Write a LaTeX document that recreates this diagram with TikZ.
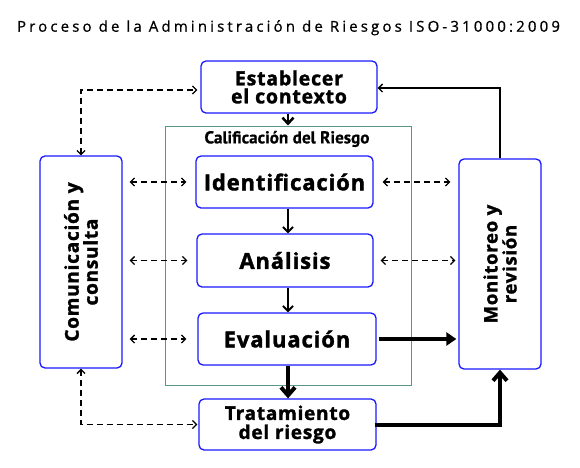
\documentclass[tikz,border=0pt]{standalone}
\usepackage{fontspec}
\usetikzlibrary{arrows.meta}
\newfontfamily\boxfont{Open Sans}[LetterSpace=4, FakeBold=1.6]
\newfontfamily\titlefont{Open Sans}[LetterSpace=21, FakeBold=0.8]
\newfontfamily\califont{PT Sans}[FakeBold=0.6]
\definecolor{boxblue}{RGB}{25,25,255}
\definecolor{contline}{RGB}{90,150,135}
\begin{document}
\begin{tikzpicture}[x=1pt,y=-1pt,
  box/.style={draw=boxblue, line width=1.3pt, rounded corners=5pt, fill=white,
    inner sep=0pt, align=center, font=\boxfont\bfseries},
  bigtxt/.style={font=\boxfont\bfseries\fontsize{22}{22}\selectfont},
  twotxt/.style={font=\boxfont\bfseries\fontsize{19.5}{18}\selectfont},
  dashar/.style={dash pattern=on 6pt off 4pt, line width=1.3pt,
    {Straight Barb[length=4pt,width=8pt]}-{Straight Barb[length=4pt,width=8pt]}},
  flow/.style={line width=2pt, -{Straight Barb[length=5pt,width=10pt]}},
  thickflow/.style={line width=4pt, -{Straight Barb[length=8pt,width=14pt]}},
  thintip/.style={line width=1.3pt, -{Straight Barb[length=4pt,width=8pt]}},
  filledflow/.style={line width=4pt, -{Triangle[length=10pt,width=13pt]}}
]
\useasboundingbox (0,0) rectangle (580,467);

\node[anchor=base, font=\titlefont\fontsize{15}{15}\selectfont] (title) at (288.5,31.7)
  {Proceso de la Administración de Riesgos ISO-31000:2009};

% container
\node[draw=contline, line width=1pt, minimum width=246pt, minimum height=259pt,
  inner sep=0pt] (cal) at (288,255.5) {};
\node[font=\califont\bfseries\fontsize{17.2}{17.2}\selectfont] (caltxt) at (287,139) {Calificación del Riesgo};

% boxes
\node[box, twotxt, minimum width=176pt, minimum height=52pt] (est) at (289,87)
  {Establecer\\el contexto};
\node[box, bigtxt, minimum width=177pt, minimum height=52pt] (id) at (284.5,182) {Identificación};
\node[box, bigtxt, minimum width=176pt, minimum height=53pt] (an) at (285,260.5) {Análisis};
\node[box, bigtxt, minimum width=178pt, minimum height=52pt] (ev) at (287,339) {Evaluación};
\node[box, twotxt, font=\boxfont\bfseries\fontsize{19}{19}\selectfont,
  minimum width=177pt, minimum height=51pt] (tr) at (287.5,424.5)
  {Tratamiento\\del riesgo};
\node[box, minimum width=82pt, minimum height=212pt] (com) at (81,262) {};
\node[rotate=90, align=center, font=\boxfont\bfseries\fontsize{19}{19}\selectfont]
  (comtxt) at (com.center) {Comunicación y\\consulta};
\node[box, minimum width=82pt, minimum height=210pt] (mon) at (500,264) {};
\node[rotate=90, align=center, font=\boxfont\bfseries\fontsize{18.5}{19}\selectfont]
  (montxt) at (mon.center) {Monitoreo y\\revisión};

% main flow
\draw[line width=2.5pt, -{Straight Barb[length=6pt,width=11pt]}] (est.south -| cal.north) -- (cal.north);
\draw[flow] (id.south -| cal.north) -- (an.north -| cal.north);
\draw[flow] (an.south -| cal.north) -- (ev.north -| cal.north);
\draw[thickflow] (ev.south -| cal.north) -- (tr.north -| cal.north);
\draw[filledflow, shorten <=2pt, shorten >=2pt] (ev.east) -- (ev.east -| mon.west);
\draw[thickflow, line cap=rect] (tr.east) -| (mon.south);
\draw[thintip] (mon.north) |- ([yshift=-1pt]est.east);

% dashed communication
\draw[dashar, shorten <=7pt, shorten >=9pt] (com.east |- id.west) -- (id.west);
\draw[dashar, shorten <=7pt, shorten >=9pt] (com.east |- an.west) -- (an.west);
\draw[dashar, shorten <=7pt, shorten >=11pt] (com.east |- ev.west) -- (ev.west);
\draw[dashar, shorten <=9pt, shorten >=8pt] (id.east) -- (id.east -| mon.west);
\draw[dashar, shorten <=7pt, shorten >=3pt] (an.east) -- (an.east -| mon.west);
\draw[dashar, shorten >=3pt] (com.north) |- ([yshift=-3pt]est.west);
\draw[dashar, shorten >=1pt] (com.south) |- (tr.west);
\end{tikzpicture}
\end{document}
